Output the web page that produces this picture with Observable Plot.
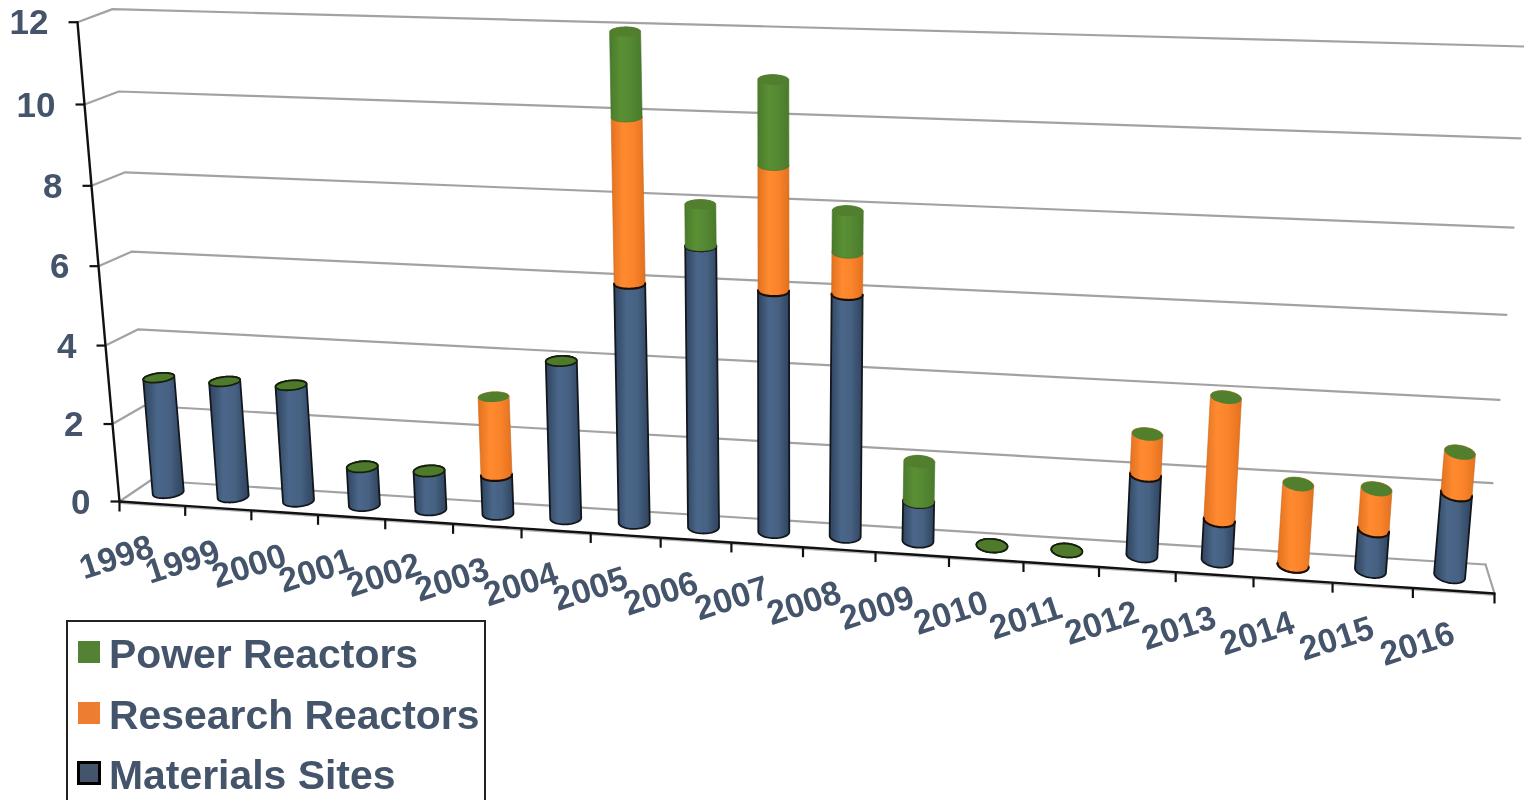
<!DOCTYPE html>
<html>
<head>
<meta charset="utf-8">
<script src="https://cdn.jsdelivr.net/npm/d3@7"></script>
<script src="https://cdn.jsdelivr.net/npm/@observablehq/plot@0.6"></script>
<style>
html,body{margin:0;padding:0;background:#fff;overflow:hidden;width:1524px;height:800px}
#chart{position:absolute;left:0;top:0}
#chart svg{display:block;filter:blur(.45px)}
#legend{position:absolute;left:66px;top:620px;width:420px;height:190px;box-sizing:border-box;border:2px solid #222;background:#fff;
  font:bold 40.9px "Liberation Sans",Arial,sans-serif;color:#44546a;filter:blur(.35px)}
#legend .row{position:absolute;left:41px;white-space:nowrap;line-height:46px}
#legend .sw{position:absolute;box-sizing:border-box}
</style>
</head>
<body>
<div id="chart"></div>
<div id="legend"></div>
<script>
const years = [1998,1999,2000,2001,2002,2003,2004,2005,2006,2007,2008,2009,2010,2011,2012,2013,2014,2015,2016];
const materialsSites = [3,3,3,1,1,1,4,6,7,6,6,1,0,0,2,1,0,1,2];
const researchReactors = [0,0,0,0,0,2,0,4,0,3,1,0,0,0,1,3,2,1,1];
const powerReactors = [0,0,0,0,0,0,0,2,1,2,1,1,0,0,0,0,0,0,0];
const valueTicks = [0,2,4,6,8,10,12];
const seriesNames = ["Power Reactors","Research Reactors","Materials Sites"];

// 3-D view of the chart box: t = category position, v = value, d = depth (0 front, 1 back)
const lerp = (a,b,k) => a + (b - a) * k;
const along = t => (65.5 * t + 0.2 * t * t + 0.0085 * t * t * t) / 1375;
function view(t, v, d) {
  const u = along(t);
  const fl = [119 - 3.5 * v, 501 - 38.5 * v - 0.12 * v * v];
  const fr = [1494 + 3.8 * v, 593 - 40.8 * v - 0.2 * v * v];
  const bl = [150 - 3.17 * v, 480 - 37 * v - 0.19 * v * v];
  const br = [1485 + 3.5 * v, 564 - 40.3 * v - 0.2 * v * v - 0.0032 * v * v * v];
  return [
    lerp(lerp(fl[0], fr[0], u), lerp(bl[0], br[0], u), d),
    lerp(lerp(fl[1], fr[1], u), lerp(bl[1], br[1], u), d)
  ];
}
// Cylinder cross-section on screen: constant width, height follows the floor depth at that level
const RX = 15.5, RD = 0.26, N = 56;
const ring = (i, v, a0 = 0, a1 = 2 * Math.PI) => {
  const t = i + 0.5, [cx0, cy] = view(t, v, 0.53);
  const cx = cx0 + 4 * Math.exp(-(((along(t) - 0.72) / 0.15) ** 2));
  const ry = RD * (view(t, v, 0)[1] - view(t, v, 1)[1]);
  const slope = lerp(-0.12, 0.17, along(t));
  return d3.range(N + 1).map(k => {
    const a = a0 + (a1 - a0) * k / N;
    return [cx + RX * Math.cos(a), cy + RX * slope * Math.cos(a) - ry * Math.sin(a)];
  });
};
function body(id, i, v0, v1) {
  const hull = d3.polygonHull([...ring(i, v0), ...ring(i, v1)]);
  return [...hull, hull[0]].map(([x, y]) => ({id, x, y}));
}
const asRows = (id, pts) => pts.map(([x, y]) => ({id, x, y}));

// Stacks
const blue = [], orange = [], green = [], capBlack = [], capPlain = [], rims = [];
years.forEach((yr, i) => {
  const m = materialsSites[i], r = researchReactors[i], p = powerReactors[i];
  blue.push(...body(yr, i, 0, m));
  if (r > 0) orange.push(...body(yr, i, m, m + r));
  if (p > 0) green.push(...body(yr, i, m + r, m + r + p));
  const top = m + r + p;
  if (r === 0 && p === 0) capBlack.push(...asRows(yr, ring(i, top)));
  else capPlain.push(...asRows(yr, ring(i, top)));
  if (r + p > 0) rims.push(...asRows(yr, ring(i, m, Math.PI, 2 * Math.PI)));
});

// Box, gridlines and axes
const grid = valueTicks.flatMap(v => asRows("g" + v, [view(0, v, 0), view(0, v, 1), view(19, v, 1)]));
const floorEdge = asRows("edge", [view(19, 0, 1), view(19, 0, 0)]);
const axisX = asRows("ax", d3.range(0, 19.01, 0.5).map(t => view(t, 0, 0)));
const axisY = asRows("ay", valueTicks.map(v => view(0, v, 0)));
const yTicks = valueTicks.map(v => { const [x, y] = view(0, v, 0); return {v, x, y}; });
const xTicks = d3.range(20).map(t => { const [x, y] = view(t, 0, 0); return {t, x, y}; });
const xLabels = years.map((yr, i) => { const [x, y] = view(i, 0, 0); return {yr, x: x + lerp(-3, 5, along(i)), y}; });

const FONT = '"Liberation Sans",Arial,sans-serif';
const TXT = "#44546a";
const XY = {x: "x", y: "y", z: "id"};

const plot = Plot.plot({
  width: 1524, height: 800, marginTop: 0, marginRight: 0, marginBottom: 0, marginLeft: 0,
  style: {background: "#fff", fontFamily: FONT},
  x: {domain: [0, 1524], range: [0, 1524], axis: null},
  y: {domain: [0, 800], range: [0, 800], axis: null},
  marks: [
    Plot.line(grid, {...XY, stroke: "#a2a2a2", strokeWidth: 2.2}),
    Plot.line(floorEdge, {...XY, stroke: "#a2a2a2", strokeWidth: 2.2}),
    Plot.line(axisY, {...XY, stroke: "#111", strokeWidth: 2.4}),
    Plot.line(axisX.map(d => ({...d, y: d.y + 1.5})), {...XY, stroke: "#bbb", strokeWidth: 2}),
    Plot.line(axisX, {...XY, stroke: "#111", strokeWidth: 2.4}),
    Plot.link(yTicks, {x1: d => d.x - 9, x2: "x", y1: "y", y2: "y", stroke: "#111", strokeWidth: 2.2}),
    Plot.link(xTicks, {x1: "x", x2: "x", y1: "y", y2: d => d.y + 10, stroke: "#111", strokeWidth: 2.2}),
    Plot.text(yTicks, {x: "x", y: "y", text: d => String(d.v), dx: -29, dy: 1, textAnchor: "end", fill: TXT, fontSize: 35, fontWeight: "bold"}),
    Plot.text(xLabels, {x: "x", y: "y", text: d => String(d.yr), dy: 56, rotate: -18, textAnchor: "middle", fill: TXT, fontSize: 34, fontWeight: "bold"}),
    Plot.line(blue, {...XY, fill: "url(#gBlue)", stroke: "#12161d", strokeWidth: 1.8}),
    Plot.line(orange, {...XY, fill: "url(#gOrange)", stroke: "#c9681f", strokeWidth: .6}),
    Plot.line(rims, {...XY, stroke: "#1a0f08", strokeWidth: 2.2}),
    Plot.line(green, {...XY, fill: "url(#gGreen)", stroke: "#47702a", strokeWidth: .6}),
    Plot.line(capPlain, {...XY, fill: "#527f2e", stroke: "none"}),
    Plot.line(capBlack, {...XY, fill: "#4f7a2c", stroke: "#14200c", strokeWidth: 1.8})
  ]
});

const defs = d3.select(plot).insert("defs", ":first-child");
const gradients = {
  gBlue: ["#2f435d", "#4a6689", "#466182", "#2f435d"],
  gOrange: ["#e2711f", "#ff8a30", "#fb842b", "#e2711f"],
  gGreen: ["#4a7a2b", "#5a9034", "#558833", "#4a7a2b"]
};
Object.entries(gradients).forEach(([id, c]) => {
  const g = defs.append("linearGradient").attr("id", id).attr("x1", 0).attr("x2", 1).attr("y1", 0).attr("y2", 0);
  [0, .35, .65, 1].forEach((o, i) => g.append("stop").attr("offset", o).attr("stop-color", c[i]));
});
document.getElementById("chart").append(plot);

// Legend
const legend = d3.select("#legend");
const swatches = ["#548235", "#ed7d31", "#44546a"];
seriesNames.forEach((name, i) => {
  const big = i === 2;
  legend.append("div").attr("class", "sw")
    .style("left", (big ? 9 : 10) + "px")
    .style("top", (big ? 139 : 19 + 60.5 * i) + "px")
    .style("width", (big ? 24 : 22) + "px")
    .style("height", (big ? 24 : 22) + "px")
    .style("background", swatches[i])
    .style("border", big ? "3px solid #000" : "none");
  legend.append("div").attr("class", "row")
    .style("top", (9 + 60.5 * i) + "px")
    .text(name);
});
</script>
</body>
</html>
